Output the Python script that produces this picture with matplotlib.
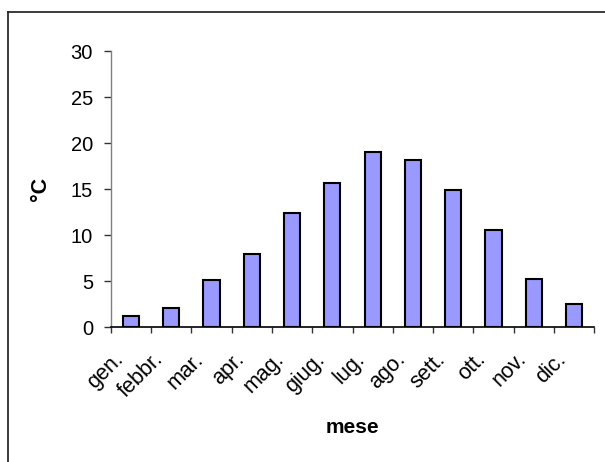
import numpy as np
import matplotlib
matplotlib.use('Agg')
import matplotlib.pyplot as plt
from matplotlib.lines import Line2D
from matplotlib.transforms import ScaledTranslation

plt.rcParams['font.family'] = ['Liberation Sans', 'DejaVu Sans']

mesi = ['gen.', 'febbr.', 'mar.', 'apr.', 'mag.', 'giug.', 'lug.',
        'ago.', 'sett.', 'ott.', 'nov.', 'dic.']
temperature = [1.2, 2.1, 5.1, 8.0, 12.4, 15.7, 19.0, 18.2, 14.9, 10.6, 5.2, 2.5]
yticks = [0, 5, 10, 15, 20, 25, 30]

fig = plt.figure(figsize=(6.05, 4.62), dpi=100)
ax = fig.add_axes([0.183, 0.2916, 0.7993, 0.598])

x = np.arange(len(mesi))
ax.bar(x, temperature, width=0.4, color='#9999FF', edgecolor='black',
       linewidth=1.5, zorder=3)

ax.set_xlim(-0.5, len(mesi) - 0.5)
ax.set_ylim(0, 30)
ax.set_yticks(yticks)
ax.set_yticklabels([str(v) for v in yticks], fontsize=14.5)

# labels at the centres, tick marks between categories
ax.set_xticks(x)
ax.set_xticklabels(mesi, fontsize=15.5, rotation=45, ha='right',
                   va='baseline', rotation_mode='anchor')
ax.set_xticks(np.arange(-0.5, len(mesi), 1), minor=True)
ax.tick_params(axis='x', which='major', length=0, pad=23.5)
ax.tick_params(axis='x', which='minor', length=4.3, width=1, color='#333333',
               direction='out')
ax.tick_params(axis='y', length=4.8, width=1, color='#333333', pad=8)

shift = ScaledTranslation(-0.07, 0, fig.dpi_scale_trans)
for lbl in ax.get_xticklabels():
    lbl.set_transform(lbl.get_transform() + shift)

for s in ['top', 'right']:
    ax.spines[s].set_visible(False)
ax.spines['left'].set_color('#808080')
ax.spines['left'].set_linewidth(1)
ax.spines['bottom'].set_color('black')
ax.spines['bottom'].set_linewidth(1.2)

ax.set_ylabel('°C', fontsize=15.5, fontweight='bold')
ax.yaxis.set_label_coords(-0.123, 0.5)
ax.set_xlabel('mese', fontsize=15, fontweight='bold')
ax.xaxis.label.set_va('baseline')
ax.xaxis.set_label_coords(0.5, -0.3826)

# chart area border (only left and top edges visible)
bx = 8 / 605
by = 1 - 12 / 462
fig.add_artist(Line2D([bx, bx], [0, by], transform=fig.transFigure,
                      color='#222222', lw=1.25))
fig.add_artist(Line2D([bx, 1], [by, by], transform=fig.transFigure,
                      color='#222222', lw=1.25))

fig.savefig('out.png', dpi=100)
